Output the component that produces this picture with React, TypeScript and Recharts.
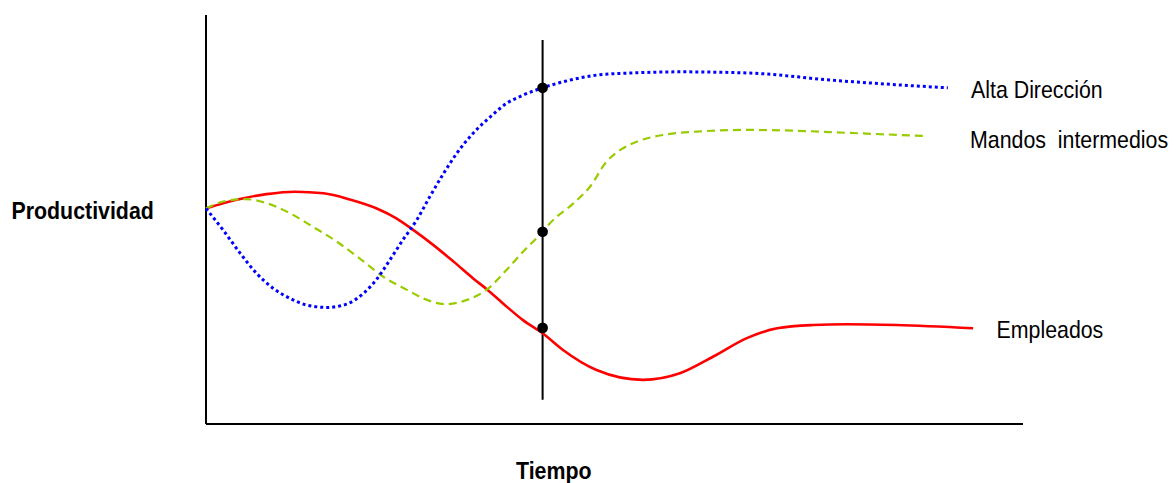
import React from "react";
import { ComposedChart, Line, Scatter, XAxis, YAxis, ZAxis, ReferenceLine } from "recharts";

// Time (0-100) and productivity (0-100) values
const altaDireccion = [
  { t: 0, v: 52.7 }, { t: 2.1, v: 47.4 }, { t: 4.2, v: 41.7 }, { t: 6.2, v: 36.8 },
  { t: 8.2, v: 33.2 }, { t: 10.3, v: 30.7 }, { t: 12.3, v: 29.1 }, { t: 14.8, v: 28.5 },
  { t: 17.2, v: 29.3 }, { t: 19.3, v: 32.0 }, { t: 20.9, v: 35.4 }, { t: 22.5, v: 40.1 },
  { t: 24.1, v: 45.0 }, { t: 25.8, v: 49.9 }, { t: 27.4, v: 55.6 }, { t: 29.0, v: 61.0 },
  { t: 30.7, v: 66.2 }, { t: 32.7, v: 71.1 }, { t: 34.8, v: 75.1 }, { t: 36.8, v: 78.4 },
  { t: 38.8, v: 80.4 }, { t: 41.2, v: 82.2 }, { t: 44.6, v: 84.1 }, { t: 47.8, v: 85.3 },
  { t: 53.1, v: 85.9 }, { t: 58.0, v: 86.1 }, { t: 66.6, v: 85.8 }, { t: 76.4, v: 84.1 },
  { t: 84.9, v: 82.9 }, { t: 90.8, v: 82.2 },
];

const mandosIntermedios = [
  { t: 0, v: 52.7 }, { t: 2.1, v: 54.4 }, { t: 4.8, v: 55.0 }, { t: 7.4, v: 54.0 },
  { t: 10.3, v: 51.5 }, { t: 13.1, v: 48.2 }, { t: 16.0, v: 44.6 }, { t: 18.8, v: 40.5 },
  { t: 21.7, v: 36.0 }, { t: 24.6, v: 32.8 }, { t: 26.6, v: 30.7 }, { t: 29.3, v: 29.3 },
  { t: 31.9, v: 30.3 }, { t: 34.4, v: 32.9 }, { t: 36.8, v: 37.7 }, { t: 38.8, v: 42.1 },
  { t: 41.2, v: 47.0 }, { t: 42.1, v: 49.1 }, { t: 45.0, v: 54.0 }, { t: 47.0, v: 58.0 },
  { t: 49.0, v: 64.1 }, { t: 50.7, v: 67.0 }, { t: 52.7, v: 69.0 }, { t: 56.0, v: 70.7 },
  { t: 60.1, v: 71.5 }, { t: 66.2, v: 71.9 }, { t: 72.3, v: 71.7 }, { t: 78.4, v: 71.2 },
  { t: 88.2, v: 70.4 },
];

const empleados = [
  { t: 0, v: 52.7 }, { t: 2.1, v: 54.0 }, { t: 4.6, v: 55.2 }, { t: 7.4, v: 56.2 },
  { t: 10.9, v: 56.8 }, { t: 14.4, v: 56.4 }, { t: 17.6, v: 54.9 }, { t: 20.9, v: 52.7 },
  { t: 23.3, v: 50.3 }, { t: 25.4, v: 47.4 }, { t: 27.8, v: 43.8 }, { t: 30.3, v: 39.7 },
  { t: 32.7, v: 35.6 }, { t: 34.4, v: 32.9 }, { t: 36.8, v: 28.7 }, { t: 38.8, v: 25.4 },
  { t: 41.2, v: 22.2 }, { t: 43.7, v: 18.1 }, { t: 47.8, v: 13.2 }, { t: 53.5, v: 10.8 },
  { t: 58.0, v: 12.4 }, { t: 62.1, v: 16.5 }, { t: 66.2, v: 21.0 }, { t: 69.9, v: 23.4 },
  { t: 74.3, v: 24.2 }, { t: 78.4, v: 24.4 }, { t: 84.5, v: 24.2 }, { t: 93.9, v: 23.4 },
];

const markerTime = 41.2;
const markerPoints = [
  { t: markerTime, v: 82.2 },
  { t: markerTime, v: 47.0 },
  { t: markerTime, v: 23.5 },
];
const markerRange = [93.9, 5.9];

const seriesLabels = ["Alta Dirección", "Mandos  intermedios", "Empleados"];
const yAxisTitle = "Productividad";
const xAxisTitle = "Tiempo";

const font = "'Liberation Sans', Arial, Helvetica, sans-serif";

function Label({ x, y, text, bold }: { x: number; y: number; text: string; bold?: boolean }) {
  return (
    <text
      transform={`translate(${x},${y}) scale(0.89,1)`}
      x={0}
      y={0}
      fontFamily={font}
      fontSize={24}
      fontWeight={bold ? "bold" : "normal"}
      fill="#000"
      style={{ whiteSpace: "pre" }}
      xmlSpace="preserve"
    >
      {text}
    </text>
  );
}

export default function App() {
  return (
    <div style={{ position: "absolute", left: 0, top: 0, width: 1176, height: 483, background: "#fff" }}>
      <ComposedChart
        width={1176}
        height={483}
        margin={{ top: 15, right: 153, bottom: 59, left: 206 }}
      >
        <XAxis type="number" dataKey="t" domain={[0, 100]} hide />
        <YAxis type="number" dataKey="v" domain={[0, 100]} hide />
        <ZAxis range={[90, 90]} />
        <ReferenceLine x={0} stroke="#000" strokeWidth={2} />
        <ReferenceLine y={0} stroke="#000" strokeWidth={2} />
        <ReferenceLine
          segment={[
            { x: markerTime, y: markerRange[0] },
            { x: markerTime, y: markerRange[1] },
          ]}
          stroke="#000"
          strokeWidth={2}
        />
        <Line
          data={empleados}
          dataKey="v"
          type="monotone"
          stroke="#ff0000"
          strokeWidth={2.6}
          dot={false}
          isAnimationActive={false}
        />
        <Line
          data={mandosIntermedios}
          dataKey="v"
          type="monotone"
          stroke="#99cc00"
          strokeWidth={2.2}
          strokeDasharray="8 5"
          dot={false}
          isAnimationActive={false}
        />
        <Line
          data={altaDireccion}
          dataKey="v"
          type="monotone"
          stroke="#0000ff"
          strokeWidth={3}
          strokeDasharray="3 3"
          dot={false}
          isAnimationActive={false}
        />
        <Scatter data={markerPoints} dataKey="v" fill="#000" isAnimationActive={false} />
      </ComposedChart>
      <svg
        width={1176}
        height={483}
        style={{ position: "absolute", left: 0, top: 0, pointerEvents: "none" }}
      >
        <Label x={971} y={97.5} text={seriesLabels[0]} />
        <Label x={970} y={147.5} text={seriesLabels[1]} />
        <Label x={996.5} y={337.5} text={seriesLabels[2]} />
        <Label x={11.5} y={219} text={yAxisTitle} bold />
        <Label x={516} y={478.5} text={xAxisTitle} bold />
      </svg>
    </div>
  );
}
